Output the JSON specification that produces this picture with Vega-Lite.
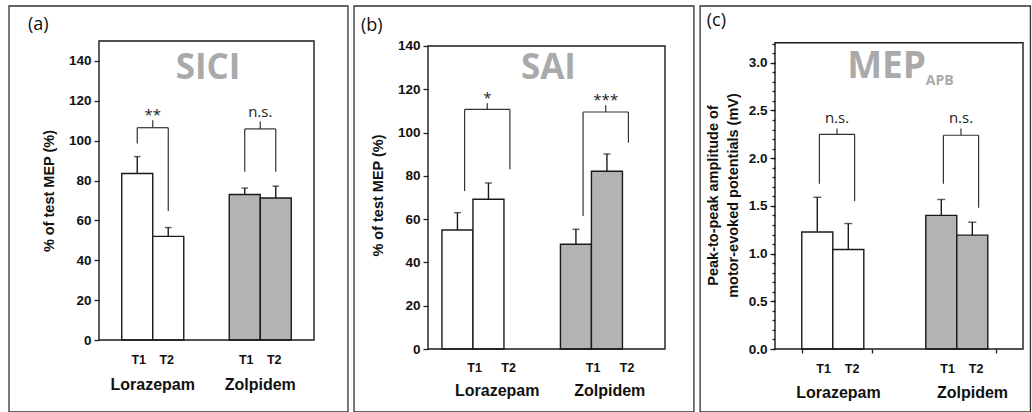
{
  "$schema": "https://vega.github.io/schema/vega-lite/v6.json",
  "padding": {"left": 8, "top": 5, "right": 0, "bottom": 0},
  "spacing": 4,
  "config": {
    "view": {"stroke": null},
    "axis": {"grid": false, "labelFont": "Liberation Sans", "labelFontWeight": "bold", "labelFontSize": 13.5, "labelColor": "#111",
             "titleFont": "Liberation Sans", "titleFontWeight": "bold", "titleFontSize": 14.5, "titleColor": "#111",
             "domainColor": "#222", "tickColor": "#222", "domainWidth": 1.3, "tickWidth": 1.3}
  },
  "datasets": {
    "a_bars": [
      {"drug": "Lorazepam", "time": "T1", "mean": 83.5, "upper": 92},
      {"drug": "Lorazepam", "time": "T2", "mean": 52, "upper": 56.4},
      {"drug": "Zolpidem", "time": "T1", "mean": 73, "upper": 76.2},
      {"drug": "Zolpidem", "time": "T2", "mean": 71.2, "upper": 77.2}
    ],
    "a_br": [
      {"drug": "Lorazepam", "left": 98.6, "right": 64.7, "top": 106.5, "tick": 110.2, "sig": "**", "sy": 110.4},
      {"drug": "Zolpidem", "left": 84.4, "right": 84.4, "top": 105.9, "tick": 109.6, "sig": "n.s.", "sy": 111.9}
    ],
    "b_bars": [
      {"drug": "Lorazepam", "time": "T1", "mean": 55, "upper": 63},
      {"drug": "Lorazepam", "time": "T2", "mean": 69.2, "upper": 76.7},
      {"drug": "Zolpidem", "time": "T1", "mean": 48.4, "upper": 55.3},
      {"drug": "Zolpidem", "time": "T2", "mean": 82.1, "upper": 90.1}
    ],
    "b_br": [
      {"drug": "Lorazepam", "left": 73, "right": 83, "top": 110.7, "tick": 113.5, "sig": "*", "sy": 113.5},
      {"drug": "Zolpidem", "left": 61.5, "right": 95.3, "top": 109.5, "tick": 112.6, "sig": "***", "sy": 112.8}
    ],
    "c_bars": [
      {"drug": "Lorazepam", "time": "T1", "mean": 1.227, "upper": 1.59},
      {"drug": "Lorazepam", "time": "T2", "mean": 1.043, "upper": 1.315},
      {"drug": "Zolpidem", "time": "T1", "mean": 1.4, "upper": 1.567},
      {"drug": "Zolpidem", "time": "T2", "mean": 1.193, "upper": 1.329}
    ],
    "c_br": [
      {"drug": "Lorazepam", "left": 1.731, "right": 1.55, "top": 2.25, "tick": 2.31, "sig": "n.s.", "sy": 2.37},
      {"drug": "Zolpidem", "left": 1.731, "right": 1.48, "top": 2.24, "tick": 2.31, "sig": "n.s.", "sy": 2.37}
    ]
  },
  "hconcat": [
    {
      "width": 215, "height": 299,
      "resolve": {"scale": {"x": "independent", "y": "independent"}},
      "layer": [
        {
          "layer": [
            {"data": {"name": "a_bars"},
             "mark": {"type": "bar", "stroke": "#1a1a1a", "strokeWidth": 1.4},
             "encoding": {
               "x": {"field": "drug", "type": "nominal", "scale": {"domain": ["Lorazepam", "Zolpidem"], "paddingInner": 0.423, "paddingOuter": 0.2115},
                     "axis": {"title": null, "ticks": false, "tickSize": 0, "domain": false, "labelAngle": 0, "labelFontSize": 16, "labelBaseline": "top", "labelPadding": 36}},
               "xOffset": {"field": "time", "type": "nominal", "scale": {"paddingInner": 0, "paddingOuter": 0}},
               "y": {"field": "mean", "type": "quantitative", "scale": {"domain": [0, 150], "nice": false},
                     "axis": {"values": [0, 20, 40, 60, 80, 100, 120, 140], "title": "% of test MEP (%)", "domain": false, "tickSize": 5, "labelPadding": 3, "titlePadding": 12}},
               "fill": {"field": "drug", "type": "nominal", "scale": {"domain": ["Lorazepam", "Zolpidem"], "range": ["#ffffff", "#b3b3b3"]}, "legend": null}}},
            {"data": {"name": "a_bars"},
             "mark": {"type": "rule", "color": "#1a1a1a", "strokeWidth": 1.4},
             "encoding": {
               "x": {"field": "drug", "type": "nominal"},
               "xOffset": {"field": "time", "type": "nominal"},
               "y": {"field": "mean", "type": "quantitative"},
               "y2": {"field": "upper"}}},
            {"data": {"name": "a_bars"},
             "mark": {"type": "tick", "orient": "horizontal", "size": 6.5, "thickness": 1.4, "color": "#1a1a1a"},
             "encoding": {
               "x": {"field": "drug", "type": "nominal"},
               "xOffset": {"field": "time", "type": "nominal"},
               "y": {"field": "upper", "type": "quantitative"}}},
            {"data": {"name": "a_bars"}, "transform": [{"filter": "datum.time === 'T1'"}],
             "mark": {"type": "text", "font": "Liberation Sans", "fontWeight": "bold", "fontSize": 12.5, "baseline": "middle", "color": "#111"},
             "encoding": {
               "x": {"field": "drug", "type": "nominal", "bandPosition": 0.274},
               "y": {"datum": -10, "type": "quantitative"},
               "text": {"field": "time"}}},
            {"data": {"name": "a_bars"}, "transform": [{"filter": "datum.time === 'T2'"}],
             "mark": {"type": "text", "font": "Liberation Sans", "fontWeight": "bold", "fontSize": 12.5, "baseline": "middle", "color": "#111"},
             "encoding": {
               "x": {"field": "drug", "type": "nominal", "bandPosition": 0.726},
               "y": {"datum": -10, "type": "quantitative"},
               "text": {"field": "time"}}},
            {"data": {"name": "a_br"},
             "mark": {"type": "rule", "color": "#333", "strokeWidth": 1.2},
             "encoding": {
               "x": {"field": "drug", "type": "nominal", "bandPosition": 0.25},
               "y": {"field": "left", "type": "quantitative"},
               "y2": {"field": "top"}}},
            {"data": {"name": "a_br"},
             "mark": {"type": "rule", "color": "#333", "strokeWidth": 1.2},
             "encoding": {
               "x": {"field": "drug", "type": "nominal", "bandPosition": 0.75},
               "y": {"field": "right", "type": "quantitative"},
               "y2": {"field": "top"}}},
            {"data": {"name": "a_br"},
             "mark": {"type": "rule", "color": "#333", "strokeWidth": 1.2},
             "encoding": {
               "x": {"field": "drug", "type": "nominal", "bandPosition": 0.25},
               "x2": {"field": "drug", "bandPosition": 0.75},
               "y": {"field": "top", "type": "quantitative"}}},
            {"data": {"name": "a_br"},
             "mark": {"type": "rule", "color": "#333", "strokeWidth": 1.2},
             "encoding": {
               "x": {"field": "drug", "type": "nominal", "bandPosition": 0.5},
               "y": {"field": "top", "type": "quantitative"},
               "y2": {"field": "tick"}}},
            {"data": {"name": "a_br"},
             "mark": {"type": "text", "font": "Open Sans", "fontSize": 15, "baseline": "alphabetic", "align": "center", "color": "#222"},
             "encoding": {
               "x": {"field": "drug", "type": "nominal", "bandPosition": 0.5},
               "y": {"field": "sy", "type": "quantitative"},
               "text": {"field": "sig"}}}
          ]
        },
        {
          "data": {"values": [{"panel": "(a)", "name": "SICI"}]},
          "layer": [
            {"mark": {"type": "rect", "filled": false, "stroke": "#333", "strokeWidth": 1.3},
             "encoding": {
               "x": {"datum": -0.4186, "type": "quantitative", "scale": {"domain": [0, 1], "nice": false, "zero": false}, "axis": null},
               "x2": {"datum": 1.158},
               "y": {"datum": -0.2408, "type": "quantitative", "scale": {"domain": [0, 1], "nice": false, "zero": false}, "axis": null},
               "y2": {"datum": 1.117}}},
            {"mark": {"type": "rect", "filled": false, "stroke": "#1a1a1a", "strokeWidth": 1.4},
             "encoding": {
               "x": {"datum": 0, "type": "quantitative", "axis": null},
               "x2": {"datum": 1},
               "y": {"datum": 0, "type": "quantitative", "axis": null},
               "y2": {"datum": 1}}},
            {"mark": {"type": "text", "align": "left", "baseline": "middle", "fontSize": 18, "font": "Open Sans", "color": "#111"},
             "encoding": {
               "x": {"datum": -0.33, "type": "quantitative", "axis": null},
               "y": {"datum": 1.055, "type": "quantitative", "axis": null},
               "text": {"field": "panel"}}},
            {"mark": {"type": "text", "align": "center", "baseline": "middle", "fontSize": 35, "font": "Open Sans", "fontWeight": "bold", "color": "#aaaaaa"},
             "encoding": {
               "x": {"datum": 0.507, "type": "quantitative", "axis": null},
               "y": {"datum": 0.91, "type": "quantitative", "axis": null},
               "text": {"field": "name"}}}
          ]
        }
      ]
    },
    {
      "width": 237, "height": 308,
      "resolve": {"scale": {"x": "independent", "y": "independent"}},
      "layer": [
        {
          "layer": [
            {"data": {"name": "b_bars"},
             "mark": {"type": "bar", "stroke": "#1a1a1a", "strokeWidth": 1.4},
             "encoding": {
               "x": {"field": "drug", "type": "nominal", "scale": {"domain": ["Lorazepam", "Zolpidem"], "paddingInner": 0.235, "paddingOuter": 0.1176},
                     "axis": {"title": null, "ticks": false, "tickSize": 0, "domain": false, "labelAngle": 0, "labelFontSize": 16, "labelBaseline": "top", "labelPadding": 33,
                              "labelOffset": {"condition": {"test": "datum.value === 'Lorazepam'", "value": 10}, "value": 4}}},
               "xOffset": {"field": "time", "type": "nominal", "scale": {"paddingInner": 0, "paddingOuter": 0}},
               "y": {"field": "mean", "type": "quantitative", "scale": {"domain": [0, 142.31], "nice": false},
                     "axis": {"values": [0, 20, 40, 60, 80, 100, 120, 140], "title": "% of test MEP (%)", "domain": false, "tickSize": 5, "labelPadding": 3, "titlePadding": 12}},
               "fill": {"field": "drug", "type": "nominal", "scale": {"domain": ["Lorazepam", "Zolpidem"], "range": ["#ffffff", "#b3b3b3"]}, "legend": null}}},
            {"data": {"name": "b_bars"},
             "mark": {"type": "rule", "color": "#1a1a1a", "strokeWidth": 1.4},
             "encoding": {
               "x": {"field": "drug", "type": "nominal"},
               "xOffset": {"field": "time", "type": "nominal"},
               "y": {"field": "mean", "type": "quantitative"},
               "y2": {"field": "upper"}}},
            {"data": {"name": "b_bars"},
             "mark": {"type": "tick", "orient": "horizontal", "size": 7, "thickness": 1.4, "color": "#1a1a1a"},
             "encoding": {
               "x": {"field": "drug", "type": "nominal"},
               "xOffset": {"field": "time", "type": "nominal"},
               "y": {"field": "upper", "type": "quantitative"}}},
            {"data": {"name": "b_bars"}, "transform": [{"filter": "datum.time === 'T1'"}],
             "mark": {"type": "text", "font": "Liberation Sans", "fontWeight": "bold", "fontSize": 12.5, "baseline": "middle", "color": "#111"},
             "encoding": {
               "x": {"field": "drug", "type": "nominal", "bandPosition": 0.36},
               "y": {"datum": -8.6, "type": "quantitative"},
               "text": {"field": "time"}}},
            {"data": {"name": "b_bars"}, "transform": [{"filter": "datum.time === 'T2'"}],
             "mark": {"type": "text", "font": "Liberation Sans", "fontWeight": "bold", "fontSize": 12.5, "baseline": "middle", "color": "#111"},
             "encoding": {
               "x": {"field": "drug", "type": "nominal", "bandPosition": 0.735},
               "y": {"datum": -8.6, "type": "quantitative"},
               "text": {"field": "time"}}},
            {"data": {"name": "b_br"},
             "mark": {"type": "rule", "color": "#333", "strokeWidth": 1.2},
             "encoding": {
               "x": {"field": "drug", "type": "nominal", "bandPosition": 0.25},
               "y": {"field": "left", "type": "quantitative"},
               "y2": {"field": "top"}}},
            {"data": {"name": "b_br"},
             "mark": {"type": "rule", "color": "#333", "strokeWidth": 1.2},
             "encoding": {
               "x": {"field": "drug", "type": "nominal", "bandPosition": 0.75},
               "y": {"field": "right", "type": "quantitative"},
               "y2": {"field": "top"}}},
            {"data": {"name": "b_br"},
             "mark": {"type": "rule", "color": "#333", "strokeWidth": 1.2},
             "encoding": {
               "x": {"field": "drug", "type": "nominal", "bandPosition": 0.25},
               "x2": {"field": "drug", "bandPosition": 0.75},
               "y": {"field": "top", "type": "quantitative"}}},
            {"data": {"name": "b_br"},
             "mark": {"type": "rule", "color": "#333", "strokeWidth": 1.2},
             "encoding": {
               "x": {"field": "drug", "type": "nominal", "bandPosition": 0.5},
               "y": {"field": "top", "type": "quantitative"},
               "y2": {"field": "tick"}}},
            {"data": {"name": "b_br"},
             "mark": {"type": "text", "font": "Open Sans", "fontSize": 15, "baseline": "alphabetic", "align": "center", "color": "#222"},
             "encoding": {
               "x": {"field": "drug", "type": "nominal", "bandPosition": 0.5},
               "y": {"field": "sy", "type": "quantitative"},
               "text": {"field": "sig"}}}
          ]
        },
        {
          "data": {"values": [{"panel": "(b)", "name": "SAI"}]},
          "layer": [
            {"mark": {"type": "rect", "filled": false, "stroke": "#333", "strokeWidth": 1.3},
             "encoding": {
               "x": {"datum": -0.312, "type": "quantitative", "scale": {"domain": [0, 1], "nice": false, "zero": false}, "axis": null},
               "x2": {"datum": 1.122},
               "y": {"datum": -0.2045, "type": "quantitative", "scale": {"domain": [0, 1], "nice": false, "zero": false}, "axis": null},
               "y2": {"datum": 1.1136}}},
            {"mark": {"type": "rect", "filled": false, "stroke": "#1a1a1a", "strokeWidth": 1.4},
             "encoding": {
               "x": {"datum": 0, "type": "quantitative", "axis": null},
               "x2": {"datum": 1},
               "y": {"datum": 0, "type": "quantitative", "axis": null},
               "y2": {"datum": 0.9838}}},
            {"mark": {"type": "text", "align": "left", "baseline": "middle", "fontSize": 18, "font": "Open Sans", "color": "#111"},
             "encoding": {
               "x": {"datum": -0.283, "type": "quantitative", "axis": null},
               "y": {"datum": 1.049, "type": "quantitative", "axis": null},
               "text": {"field": "panel"}}},
            {"mark": {"type": "text", "align": "center", "baseline": "middle", "fontSize": 35, "font": "Open Sans", "fontWeight": "bold", "color": "#aaaaaa"},
             "encoding": {
               "x": {"datum": 0.508, "type": "quantitative", "axis": null},
               "y": {"datum": 0.911, "type": "quantitative", "axis": null},
               "text": {"field": "name"}}}
          ]
        }
      ]
    },
    {
      "width": 248, "height": 308,
      "resolve": {"scale": {"x": "independent", "y": "independent"}},
      "layer": [
        {
          "layer": [
            {"data": {"name": "c_bars"},
             "mark": {"type": "bar", "stroke": "#1a1a1a", "strokeWidth": 1.4},
             "encoding": {
               "x": {"field": "drug", "type": "nominal", "scale": {"domain": ["Lorazepam", "Zolpidem"], "paddingInner": 0.432, "paddingOuter": 0.216},
                     "axis": {"title": null, "ticks": true, "tickBand": "extent", "tickSize": 4, "domain": false, "labelAngle": 0, "labelFontSize": 16, "labelBaseline": "top", "labelPadding": 31,
                              "labelOffset": {"condition": {"test": "datum.value === 'Zolpidem'", "value": 11}, "value": 1}}},
               "xOffset": {"field": "time", "type": "nominal", "scale": {"paddingInner": 0, "paddingOuter": 0}},
               "y": {"field": "mean", "type": "quantitative", "scale": {"domain": [0, 3.228], "nice": false},
                     "axis": {"orient": "left", "values": [0, 0.5, 1.0, 1.5, 2.0, 2.5, 3.0], "format": ".1f", "title": ["Peak-to-peak amplitude of", "motor-evoked potentials (mV)"], "titleLineHeight": 20, "domain": false, "tickSize": 5, "labelPadding": 3, "titlePadding": 8}},
               "fill": {"field": "drug", "type": "nominal", "scale": {"domain": ["Lorazepam", "Zolpidem"], "range": ["#ffffff", "#b3b3b3"]}, "legend": null}}},
            {"data": {"name": "c_bars"},
             "mark": {"type": "rule", "color": "#1a1a1a", "strokeWidth": 1.4},
             "encoding": {
               "x": {"field": "drug", "type": "nominal"},
               "xOffset": {"field": "time", "type": "nominal"},
               "y": {"field": "mean", "type": "quantitative"},
               "y2": {"field": "upper"}}},
            {"data": {"name": "c_bars"},
             "mark": {"type": "tick", "orient": "horizontal", "size": 8, "thickness": 1.4, "color": "#1a1a1a"},
             "encoding": {
               "x": {"field": "drug", "type": "nominal"},
               "xOffset": {"field": "time", "type": "nominal"},
               "y": {"field": "upper", "type": "quantitative"}}},
            {"data": {"name": "c_bars"}, "transform": [{"filter": "datum.time === 'T1'"}],
             "mark": {"type": "text", "font": "Liberation Sans", "fontWeight": "bold", "fontSize": 12.5, "baseline": "middle", "color": "#111"},
             "encoding": {
               "x": {"field": "drug", "type": "nominal", "bandPosition": 0.31},
               "y": {"datum": -0.213, "type": "quantitative"},
               "text": {"field": "time"}}},
            {"data": {"name": "c_bars"}, "transform": [{"filter": "datum.time === 'T2'"}],
             "mark": {"type": "text", "font": "Liberation Sans", "fontWeight": "bold", "fontSize": 12.5, "baseline": "middle", "color": "#111"},
             "encoding": {
               "x": {"field": "drug", "type": "nominal", "bandPosition": 0.714},
               "y": {"datum": -0.213, "type": "quantitative"},
               "text": {"field": "time"}}},
            {"data": {"name": "c_br"},
             "mark": {"type": "rule", "color": "#333", "strokeWidth": 1.2},
             "encoding": {
               "x": {"field": "drug", "type": "nominal", "bandPosition": 0.25},
               "y": {"field": "left", "type": "quantitative"},
               "y2": {"field": "top"}}},
            {"data": {"name": "c_br"},
             "mark": {"type": "rule", "color": "#333", "strokeWidth": 1.2},
             "encoding": {
               "x": {"field": "drug", "type": "nominal", "bandPosition": 0.75},
               "y": {"field": "right", "type": "quantitative"},
               "y2": {"field": "top"}}},
            {"data": {"name": "c_br"},
             "mark": {"type": "rule", "color": "#333", "strokeWidth": 1.2},
             "encoding": {
               "x": {"field": "drug", "type": "nominal", "bandPosition": 0.25},
               "x2": {"field": "drug", "bandPosition": 0.75},
               "y": {"field": "top", "type": "quantitative"}}},
            {"data": {"name": "c_br"},
             "mark": {"type": "rule", "color": "#333", "strokeWidth": 1.2},
             "encoding": {
               "x": {"field": "drug", "type": "nominal", "bandPosition": 0.5},
               "y": {"field": "top", "type": "quantitative"},
               "y2": {"field": "tick"}}},
            {"data": {"name": "c_br"},
             "mark": {"type": "text", "font": "Open Sans", "fontSize": 15, "baseline": "alphabetic", "align": "center", "color": "#222"},
             "encoding": {
               "x": {"field": "drug", "type": "nominal", "bandPosition": 0.5},
               "y": {"field": "sy", "type": "quantitative"},
               "text": {"field": "sig"}}}
          ]
        },
        {
          "data": {"values": [{"panel": "(c)", "name": "MEP", "sub": "APB"}]},
          "layer": [
            {"mark": {"type": "rect", "filled": false, "stroke": "#333", "strokeWidth": 1.3},
             "encoding": {
               "x": {"datum": -0.302, "type": "quantitative", "scale": {"domain": [0, 1], "nice": false, "zero": false}, "axis": null},
               "x2": {"datum": 1.03},
               "y": {"datum": -0.2045, "type": "quantitative", "scale": {"domain": [0, 1], "nice": false, "zero": false}, "axis": null},
               "y2": {"datum": 1.1136}}},
            {"mark": {"type": "rect", "filled": false, "stroke": "#1a1a1a", "strokeWidth": 1.4},
             "encoding": {
               "x": {"datum": 0, "type": "quantitative", "axis": null},
               "x2": {"datum": 1},
               "y": {"datum": 0, "type": "quantitative", "axis": null},
               "y2": {"datum": 0.9945}}},
            {"mark": {"type": "text", "align": "left", "baseline": "middle", "fontSize": 18, "font": "Open Sans", "color": "#111"},
             "encoding": {
               "x": {"datum": -0.275, "type": "quantitative", "axis": null},
               "y": {"datum": 1.065, "type": "quantitative", "axis": null},
               "text": {"field": "panel"}}},
            {"mark": {"type": "text", "align": "center", "baseline": "middle", "fontSize": 37, "font": "Open Sans", "fontWeight": "bold", "color": "#aaaaaa"},
             "encoding": {
               "x": {"datum": 0.45, "type": "quantitative", "axis": null},
               "y": {"datum": 0.914, "type": "quantitative", "axis": null},
               "text": {"field": "name"}}},
            {"mark": {"type": "text", "align": "left", "baseline": "middle", "fontSize": 14, "font": "Open Sans", "fontWeight": "bold", "color": "#aaaaaa"},
             "encoding": {
               "x": {"datum": 0.608, "type": "quantitative", "axis": null},
               "y": {"datum": 0.87, "type": "quantitative", "axis": null},
               "text": {"field": "sub"}}}
          ]
        },
        {
          "data": {"values": [{"panel": "(c)"}]},
          "mark": {"type": "rule", "opacity": 0},
          "encoding": {
            "y": {"datum": 0, "type": "quantitative", "scale": {"domain": [0, 3.228], "nice": false, "zero": false},
                  "axis": {"orient": "left", "values": [0, 0.1, 0.2, 0.3, 0.4, 0.5, 0.6, 0.7, 0.8, 0.9, 1.0, 1.1, 1.2, 1.3, 1.4, 1.5, 1.6, 1.7, 1.8, 1.9, 2.0, 2.1, 2.2, 2.3, 2.4, 2.5, 2.6, 2.7, 2.8, 2.9, 3.0, 3.1, 3.2],
                           "labels": false, "domain": false, "tickSize": 3, "title": null}}
          }
        }
      ]
    }
  ]
}
